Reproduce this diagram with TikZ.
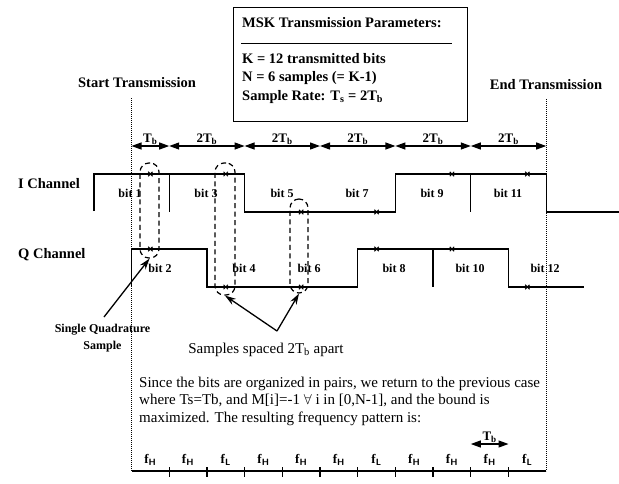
\documentclass[tikz,border=0pt]{standalone}
\usepackage{fontspec}
\setmainfont{Liberation Serif}
\usetikzlibrary{arrows.meta}
\newcommand{\Tsb}[1]{T\textsubscript{#1}}
\newcommand{\fsub}[1]{\textbf{f}\textsubscript{\sffamily\bfseries #1}}
\tikzset{
  wave/.style={line width=1.4pt, line join=miter, line cap=butt},
  tickline/.style={line width=1.3pt},
  border/.style={dash pattern=on 1.2pt off 0.8pt, line width=1.3pt},
  ellipsebox/.style={draw, dash pattern=on 5pt off 3.5pt, line width=1.2pt, rounded corners=9pt, inner sep=0},
  dimarrow/.style={line width=1.2pt, {Triangle[length=10pt,width=7pt]}-{Triangle[length=10pt,width=7pt]}},
  ptr/.style={line width=1.3pt, -{Stealth[length=11pt,width=7pt]}},
  biglbl/.style={font=\bfseries\fontsize{14.5}{17}\selectfont, inner sep=0},
  bitlbl/.style={font=\bfseries\fontsize{12}{14}\selectfont, inner sep=0},
  dimlbl/.style={font=\bfseries\fontsize{13}{15}\selectfont, inner sep=1pt},
  smallbold/.style={font=\bfseries\fontsize{12}{17}\selectfont, inner sep=0, align=center},
  bodytext/.style={font=\fontsize{15}{17.5}\selectfont, inner sep=0},
  flbl/.style={font=\fontsize{13}{15}\selectfont, inner sep=0},
  smark/.style={line width=1pt}
}
\begin{document}
\begin{tikzpicture}[x=1pt,y=-1pt]
\useasboundingbox (0,0) rectangle (619,483);

% parameter box
\node[draw, line width=1.3pt, minimum width=234pt, minimum height=114pt, inner sep=0, anchor=north west] (parbox) at (233,7) {};
\node[biglbl, anchor=west] (ptitle) at (242,23) {MSK Transmission Parameters:};
\draw[line width=0.9pt] (241,43) -- (452,43);
\node[biglbl, anchor=west] (pk) at (242,59) {K = 12 transmitted bits};
\node[biglbl, anchor=west] (pn) at (242,78) {N = 6 samples (= K-1)};
\node[biglbl, anchor=west] (pr) at (242,97) {Sample Rate: \Tsb{s} = 2\Tsb{b}};

% start / end labels and lines
\node[biglbl] (startlbl) at (137,83) {Start Transmission};
\node[biglbl] (endlbl) at (546,85) {End Transmission};
\coordinate (stop) at (131.5,98);
\coordinate (sbot) at (131.5,471);
\coordinate (etop) at (546.2,99);
\coordinate (ebot) at (546.2,471);
\draw[border] (stop) -- (sbot);
\draw[border] (etop) -- (ebot);

% dimension arrows
\foreach \n/\x in {0/131.5,1/169.2,2/244.6,3/320.0,4/395.4,5/470.8,6/546.2}
  \coordinate (b\n) at (\x,146);
\draw[dimarrow] (b0) -- (b1) node[midway, above, dimlbl] {\Tsb{b}};
\foreach \a/\b in {1/2,2/3,3/4,4/5,5/6}
  \draw[dimarrow] (b\a) -- (b\b) node[midway, above, dimlbl] {2\Tsb{b}};

% channel labels
\node[biglbl, anchor=west] (ilbl) at (18,184) {I Channel};
\node[biglbl, anchor=west] (qlbl) at (18,255) {Q Channel};

% I channel waveform
\draw[wave] (93.8,211) -- (93.8,174) -- (244.6,174) -- (244.6,212) -- (395.4,212) -- (395.4,174) -- (546.2,174) -- (546.2,212) -- (619,212);
\draw[tickline] (169.2,174) -- (169.2,212);
\draw[tickline] (470.8,174) -- (470.8,212);

% Q channel waveform
\draw[wave] (131.5,287) -- (131.5,249) -- (206.9,249) -- (206.9,287) -- (357.7,287) -- (357.7,249) -- (508.5,249) -- (508.5,287) -- (583.9,287);
\draw[tickline] (433.1,249) -- (433.1,287);

% bit labels
\node[bitlbl] (bit1) at (130,193) {bit 1};
\node[bitlbl] (bit3) at (206,193) {bit 3};
\node[bitlbl] (bit5) at (282,193) {bit 5};
\node[bitlbl] (bit7) at (357,193) {bit 7};
\node[bitlbl] (bit9) at (432,193) {bit 9};
\node[bitlbl] (bit11) at (508,193) {bit 11};
\node[bitlbl] (bit2) at (160,268) {bit 2};
\node[bitlbl] (bit4) at (244,268) {bit 4};
\node[bitlbl] (bit6) at (309,268) {bit 6};
\node[bitlbl] (bit8) at (394,268) {bit 8};
\node[bitlbl] (bit10) at (470,268) {bit 10};
\node[bitlbl] (bit12) at (545,268) {bit 12};

% sample marks
\foreach \x/\y in {150.35/174,225.75/174,301.15/212,376.55/212,451.95/174,527.35/174,
                   150.35/249,225.75/287,301.15/287,376.55/249,451.95/249,527.35/287}
  \draw[smark] (\x-2.2,\y-2.2) -- (\x+2.2,\y+2.2) (\x-2.2,\y+2.2) -- (\x+2.2,\y-2.2);

% sample groupings
\node[ellipsebox, minimum width=19pt, minimum height=95pt] (e1) at (149.5,210.5) {};
\node[ellipsebox, minimum width=20pt, minimum height=132pt] (e2) at (225,229) {};
\node[ellipsebox, minimum width=18pt, minimum height=94pt] (e3) at (299,246) {};

% annotations
\node[smallbold] (sq) at (102.5,338) {Single Quadrature\\Sample};
\coordinate (sqtail) at (104,317);
\draw[ptr] (sqtail) -- (e1.south);
\node[bodytext] (spaced) at (266,350) {Samples spaced 2\Tsb{b} apart};
\coordinate (joint) at (277,331);
\draw[ptr] (joint) -- (e2.south);
\draw[ptr] (joint) -- (e3.south);

% bottom explanation
\node[bodytext, anchor=west, align=left] (para) at (139,401) {Since the bits are organized in pairs, we return to the previous case\\
where Ts=Tb, and M[i]=-1 $\forall$ i in [0,N-1], and the bound is\\
maximized. The resulting frequency pattern is:};

\coordinate (fl) at (131.5,471);
\coordinate (fr) at (546.2,471);
\draw[line width=1.3pt] (fl) -- (fr);
\foreach \k in {1,...,10}
  \draw[tickline] (131.5+\k*37.7,467) -- (131.5+\k*37.7,477);
\foreach \k/\s in {0/H,1/H,2/L,3/H,4/H,5/H,6/L,7/H,8/H,9/H,10/L}
  \node[flbl] (f\k) at (131.5+\k*37.7+18.85,460) {\fsub{\s}};
\coordinate (ta) at (470.8,444);
\coordinate (tb) at (508.5,444);
\draw[dimarrow] (ta) -- (tb) node[midway, above, dimlbl] {\Tsb{b}};
\end{tikzpicture}
\end{document}
